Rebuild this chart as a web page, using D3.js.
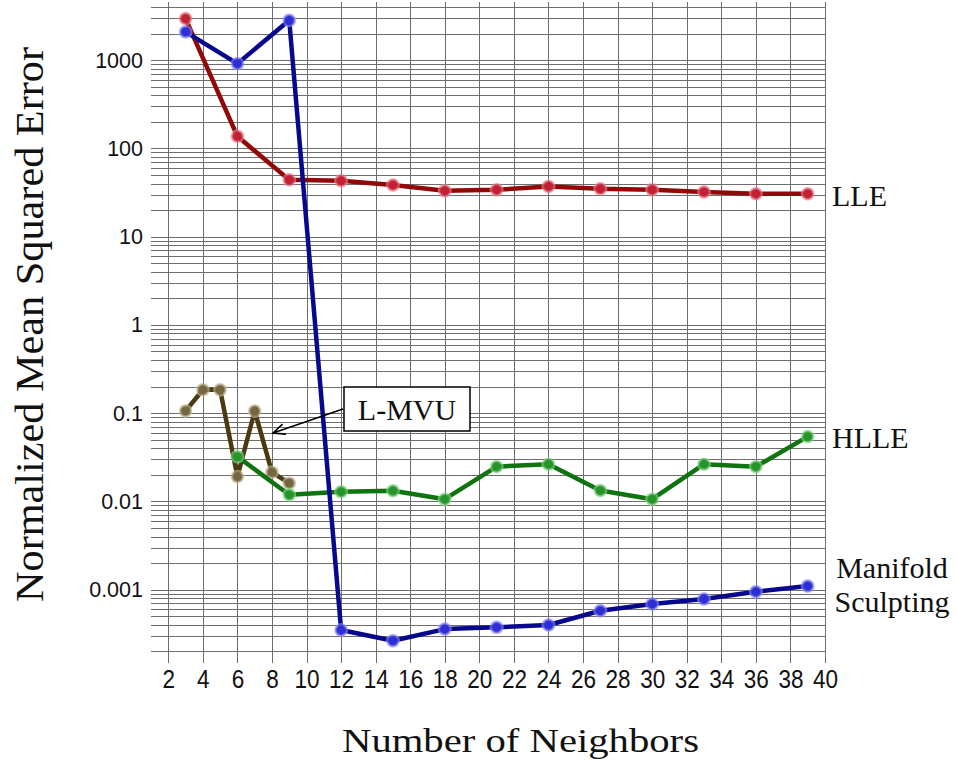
<!DOCTYPE html>
<html>
<head>
<meta charset="utf-8">
<script src="https://cdn.jsdelivr.net/npm/d3@7"></script>
<style>
  body { margin: 0; background: #fff; }
  svg { display: block; }
  .grid line { stroke: #6e6e6e; stroke-width: 1; shape-rendering: crispEdges; }
  .grid path { display: none; }
  .ticklab text { font-family: "Liberation Sans", Arial, sans-serif; fill: #111; }
  .ticklab path, .ticklab line { display: none; }
  .serif { font-family: "Liberation Serif", "Times New Roman", serif; fill: #111; }
</style>
</head>
<body>
<script>
// values
var kEvery3 = [3, 6, 9, 12, 15, 18, 21, 24, 27, 30, 33, 36, 39];
var lleValues = [2955, 137, 44, 43, 38.5, 33.1, 34.0, 37.1, 34.9, 34.0, 32.1, 30.6, 30.6];
var sculptValues = [2090, 913, 2825, 0.000349, 0.000264, 0.000358, 0.000375, 0.000398, 0.000578, 0.000689, 0.000785, 0.000948, 0.0011];
var hlleK = [6, 9, 12, 15, 18, 21, 24, 27, 30, 33, 36, 39];
var hlleValues = [0.0322, 0.0119, 0.0129, 0.0132, 0.0106, 0.0248, 0.0264, 0.0133, 0.0106, 0.0264, 0.0248, 0.0543];
var lmvuK = [3, 4, 5, 6, 7, 8, 9];
var lmvuValues = [0.106, 0.184, 0.184, 0.0191, 0.106, 0.0214, 0.0161];

var xTicks = [2, 4, 6, 8, 10, 12, 14, 16, 18, 20, 22, 24, 26, 28, 30, 32, 34, 36, 38, 40];
var yTicks = [0.001, 0.01, 0.1, 1, 10, 100, 1000];
var yTickLabels = ["0.001", "0.01", "0.1", "1", "10", "100", "1000"];

var width = 956, height = 763;
var plotLeft = 151, plotRight = 825, plotTop = 7, plotBottom = 651.4;

var svg = d3.select("body").append("svg")
    .attr("width", width)
    .attr("height", height);

var x = d3.scaleLinear().domain([1, 40]).range([plotLeft, plotRight]);
var y = d3.scaleLog().domain([0.0002, 4000]).range([plotBottom, plotTop]);

// minor log grid: 1..9 x 10^k inside the domain
var gridY = [];
for (var k = -4; k <= 3; k++) {
  for (var m = 1; m <= 9; m++) {
    var v = +(m * Math.pow(10, k)).toPrecision(3);
    if (v >= 0.0002 * 0.999 && v <= 4000 * 1.001) gridY.push(v);
  }
}

svg.append("g")
    .attr("class", "grid")
    .attr("transform", "translate(" + plotLeft + ",0)")
    .call(d3.axisLeft(y).tickValues(gridY).tickSize(-(plotRight - plotLeft)).tickFormat(""));

// vertical grid lines, sticking out a little above and below
var gridBottom = 663, gridTop = 2;
var xAxis = svg.append("g")
    .attr("class", "grid ticklab")
    .attr("transform", "translate(0," + gridBottom + ")")
    .call(d3.axisBottom(x).tickValues(xTicks).tickSize(-(gridBottom - gridTop)).tickPadding(7));
xAxis.selectAll("line").style("display", "inline");
xAxis.selectAll("text")
    .style("font-size", "25px")
    .attr("transform", "scale(0.9,1)");

var yAxis = svg.append("g")
    .attr("class", "ticklab")
    .attr("transform", "translate(" + plotLeft + ",0)")
    .call(d3.axisLeft(y).tickValues(yTicks).tickSize(0).tickPadding(8)
      .tickFormat(function(d, i) { return yTickLabels[i]; }));
yAxis.selectAll("text").style("font-size", "21.5px");

// marker gradients
var defs = svg.append("defs");
function makeGrad(id, core, glow) {
  var g = defs.append("radialGradient").attr("id", id);
  g.append("stop").attr("offset", "0%").attr("stop-color", core);
  g.append("stop").attr("offset", "55%").attr("stop-color", core);
  g.append("stop").attr("offset", "100%").attr("stop-color", glow).attr("stop-opacity", 0.55);
}
makeGrad("g-lle", "#c22035", "#f4a0aa");
makeGrad("g-lmvu", "#74663f", "#d8d0b0");
makeGrad("g-hlle", "#25952a", "#a8e8a8");
makeGrad("g-ms", "#2e2ed4", "#a8a8ff");

var line = d3.line()
    .x(function(d) { return x(d[0]); })
    .y(function(d) { return y(d[1]); });

function drawSeries(ks, vals, lineColor, grad) {
  var pts = ks.map(function(k, i) { return [k, vals[i]]; });
  var g = svg.append("g");
  g.append("path")
      .datum(pts)
      .attr("d", line)
      .attr("fill", "none")
      .attr("stroke", lineColor)
      .attr("stroke-width", 4.5)
      .attr("stroke-linejoin", "round");
  g.selectAll("circle")
      .data(pts)
      .enter().append("circle")
      .attr("cx", function(d) { return x(d[0]); })
      .attr("cy", function(d) { return y(d[1]); })
      .attr("r", 7)
      .attr("fill", "url(#" + grad + ")");
}

drawSeries(kEvery3, lleValues, "#920808", "g-lle");
drawSeries(lmvuK, lmvuValues, "#4a3a12", "g-lmvu");
drawSeries(hlleK, hlleValues, "#0f730f", "g-hlle");
drawSeries(kEvery3, sculptValues, "#08088e", "g-ms");

// series labels at the right end
var lastX = x(40) + 7;
svg.append("text").attr("class", "serif")
    .attr("x", lastX).attr("y", y(lleValues[lleValues.length - 1]) + 12)
    .style("font-size", "30px").text("LLE");
svg.append("text").attr("class", "serif")
    .attr("x", lastX).attr("y", y(hlleValues[hlleValues.length - 1]) + 11)
    .style("font-size", "30px").text("HLLE");
var msY = y(sculptValues[sculptValues.length - 1]);
svg.append("text").attr("class", "serif")
    .attr("x", 892).attr("y", msY - 8).attr("text-anchor", "middle")
    .style("font-size", "30px").text("Manifold");
svg.append("text").attr("class", "serif")
    .attr("x", 892).attr("y", msY + 26).attr("text-anchor", "middle")
    .style("font-size", "30px").text("Sculpting");

// L-MVU callout
svg.append("rect")
    .attr("x", 344).attr("y", 387)
    .attr("width", 126).attr("height", 44)
    .attr("fill", "#fff").attr("stroke", "#000").attr("stroke-width", 1.5);
svg.append("text").attr("class", "serif")
    .attr("x", 407).attr("y", 420).attr("text-anchor", "middle")
    .style("font-size", "30px").text("L-MVU");

var ax0 = 343, ay0 = 409, ax1 = 273, ay1 = 433;
var ang = Math.atan2(ay0 - ay1, ax0 - ax1);
var head = 13, spread = 0.42;
svg.append("path")
    .attr("d", "M" + ax0 + "," + ay0 + "L" + ax1 + "," + ay1 +
      "M" + (ax1 + head * Math.cos(ang + spread)) + "," + (ay1 + head * Math.sin(ang + spread)) +
      "L" + ax1 + "," + ay1 +
      "L" + (ax1 + head * Math.cos(ang - spread)) + "," + (ay1 + head * Math.sin(ang - spread)))
    .attr("fill", "none")
    .attr("stroke", "#000")
    .attr("stroke-width", 1.6);

// axis titles
svg.append("text").attr("class", "serif")
    .attr("transform", "translate(43,324.5) rotate(-90)")
    .attr("text-anchor", "middle")
    .attr("textLength", 555).attr("lengthAdjust", "spacingAndGlyphs")
    .style("font-size", "40px")
    .text("Normalized Mean Squared Error");

svg.append("text").attr("class", "serif")
    .attr("x", 342).attr("y", 752)
    .attr("textLength", 357).attr("lengthAdjust", "spacingAndGlyphs")
    .style("font-size", "33px")
    .text("Number of Neighbors");
</script>
</body>
</html>
